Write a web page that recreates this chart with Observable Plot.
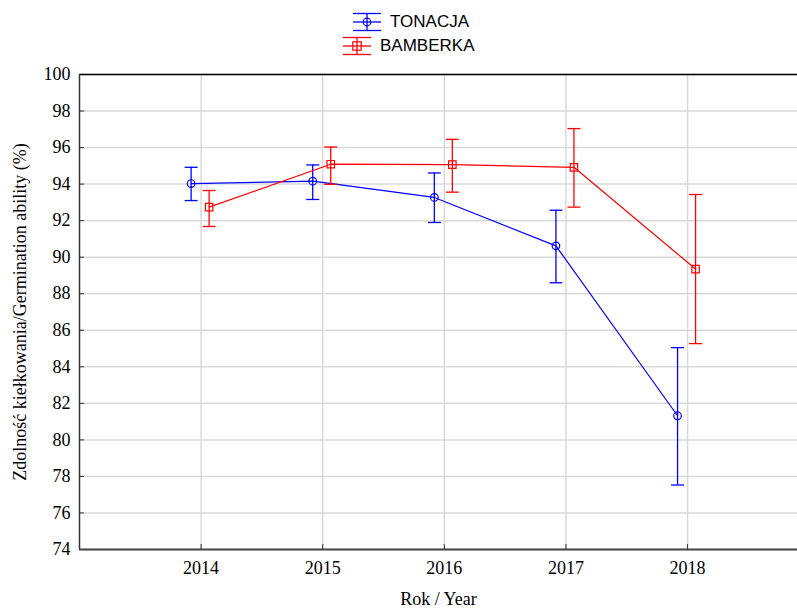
<!DOCTYPE html>
<html><head><meta charset="utf-8">
<script src="https://cdn.jsdelivr.net/npm/d3@7"></script>
<script src="https://cdn.jsdelivr.net/npm/@observablehq/plot@0.6"></script>
<style>
body{margin:0;background:#fff;}
#wrap{position:relative;width:797px;height:608px;overflow:hidden;}
#legend{position:relative;height:60px;font-family:"Liberation Sans",Arial,sans-serif;font-size:17px;color:#000;}
.row{position:absolute;display:flex;align-items:center;height:20px;}
.row svg{margin-right:8px;}
#chart svg{display:block;}
#chart svg text, #chart svg g{font-family:"Liberation Serif","Times New Roman",serif !important;font-variant:normal !important;}
</style></head><body>
<div id="wrap"><div id="legend"></div><div id="chart"></div></div>
<script>
const years = [2014, 2015, 2016, 2017, 2018];
const seriesNames = ["TONACJA", "BAMBERKA"];
const tonacjaMean = [94.03, 94.16, 93.27, 90.62, 81.32];
const tonacjaLow  = [93.10, 93.16, 91.90, 88.60, 77.53];
const tonacjaHigh = [94.92, 95.05, 94.61, 92.57, 85.05];
const bamberkaMean = [92.74, 95.09, 95.07, 94.92, 89.35];
const bamberkaLow  = [91.68, 93.99, 93.56, 92.74, 85.27];
const bamberkaHigh = [93.65, 96.03, 96.45, 97.04, 93.43];
const yTicks = d3.range(74, 101, 2);

const colors = {TONACJA: "#0000ff", BAMBERKA: "#ff0000"};
const tonacja = years.map((y, i) => ({year: y, mean: tonacjaMean[i], low: tonacjaLow[i], high: tonacjaHigh[i]}));
const bamberka = years.map((y, i) => ({year: y, mean: bamberkaMean[i], low: bamberkaLow[i], high: bamberkaHigh[i]}));

const hline = {draw(ctx) { ctx.moveTo(-6.5, 0); ctx.lineTo(6.5, 0); }};
const serif = "'Liberation Serif', 'Times New Roman', serif";

function seriesMarks(data, color, symbol, r, dx) {
  return [
    Plot.ruleX(data, {x: "year", y1: "low", y2: "high", stroke: color, strokeWidth: 1.3, dx}),
    Plot.dot(data, {x: "year", y: "low", symbol: hline, stroke: color, strokeWidth: 1.3, dx}),
    Plot.dot(data, {x: "year", y: "high", symbol: hline, stroke: color, strokeWidth: 1.3, dx}),
    Plot.line(data, {x: "year", y: "mean", stroke: color, strokeWidth: 1.2, dx}),
    Plot.dot(data, {x: "year", y: "mean", symbol, r, stroke: color, fill: "none", strokeWidth: 1.2, dx})
  ];
}

const chart = Plot.plot({
  width: 797,
  height: 548,
  marginTop: 14,
  marginBottom: 59,
  marginLeft: 79,
  marginRight: 0,
  style: {fontFamily: serif, background: "#fff"},
  x: {domain: [2013, 2018.904]},
  y: {domain: [74, 100]},
  marks: [
    Plot.gridY(yTicks, {stroke: "#d9d9d9", strokeOpacity: 1, strokeWidth: 1.5}),
    Plot.gridX(years, {stroke: "#d9d9d9", strokeOpacity: 1, strokeWidth: 1.5}),
    Plot.axisY(yTicks, {tickSize: -5, tickPadding: 14, fontSize: 18, fontFamily: serif, stroke: "#333", fill: "#000",
      label: "Zdolność kiełkowania/Germination ability (%)", labelAnchor: "center", labelArrow: "none", labelOffset: 66, tickFormat: d => String(d)}),
    Plot.axisX(years, {tickSize: -5, tickPadding: 17, fontSize: 18, fontFamily: serif, stroke: "#333", fill: "#000",
      label: "Rok / Year", labelAnchor: "center", labelArrow: "none", labelOffset: 55, tickFormat: d => String(d)}),
    Plot.ruleY([100], {stroke: "#000", strokeWidth: 1.5}),
    Plot.ruleY([74], {stroke: "#444", strokeWidth: 2}),
    Plot.ruleX([2013], {stroke: "#333", strokeWidth: 1.5}),
    ...seriesMarks(tonacja, colors.TONACJA, "circle", 3.8, -10),
    ...seriesMarks(bamberka, colors.BAMBERKA, "square", 4.2, 8)
  ]
});
document.getElementById("chart").appendChild(chart);

// legend
const legend = document.getElementById("legend");
const rows = [
  {name: seriesNames[0], color: colors.TONACJA, shape: "circle", left: 352, top: 12},
  {name: seriesNames[1], color: colors.BAMBERKA, shape: "square", left: 342, top: 36}
];
for (const r of rows) {
  const div = document.createElement("div");
  div.className = "row";
  div.style.left = r.left + "px";
  div.style.top = r.top + "px";
  const marker = r.shape === "circle"
    ? `<circle cx="15" cy="10" r="3.8" fill="none" stroke="${r.color}" stroke-width="1.2"/>`
    : `<rect x="10.8" y="5.8" width="8.4" height="8.4" fill="none" stroke="${r.color}" stroke-width="1.2"/>`;
  div.innerHTML = `<svg width="30" height="20" viewBox="0 0 30 20">
    <line x1="1" x2="29" y1="1.5" y2="1.5" stroke="${r.color}" stroke-width="1.3"/>
    <line x1="1" x2="29" y1="18.5" y2="18.5" stroke="${r.color}" stroke-width="1.3"/>
    <line x1="1" x2="29" y1="10" y2="10" stroke="${r.color}" stroke-width="1.3"/>
    <line x1="15" x2="15" y1="1.5" y2="18.5" stroke="${r.color}" stroke-width="1.3"/>
    ${marker}</svg><span>${r.name}</span>`;
  legend.appendChild(div);
}
</script>
</body></html>
